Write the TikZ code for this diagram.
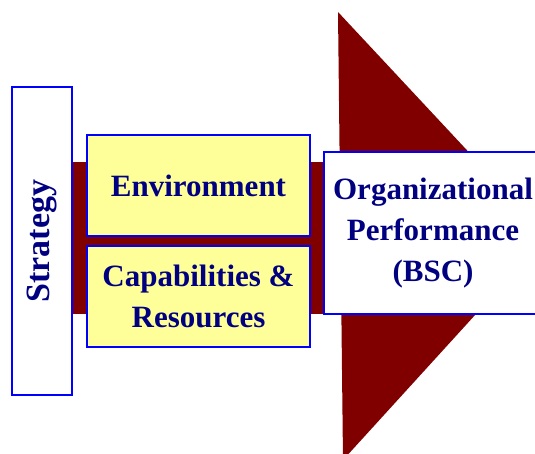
\documentclass[tikz,border=0pt]{standalone}
\usepackage{fontspec}
\setmainfont{Liberation Serif}
\definecolor{arrowred}{HTML}{800000}
\definecolor{boxblue}{HTML}{0000FF}
\definecolor{textnavy}{HTML}{000080}
\definecolor{boxyellow}{HTML}{FFFF99}
\begin{document}
\begin{tikzpicture}[x=1pt,y=-1pt,
  box/.style={draw=boxblue,line width=2pt,inner sep=0pt,align=center,
    text=textnavy,font=\bfseries\fontsize{31}{41}\selectfont},
  ybox/.style={box,fill=boxyellow,minimum width=223pt,minimum height=101pt},
  wbox/.style={box,fill=white}]
\useasboundingbox (0,0) rectangle (535,453);
\begin{scope}
\clip (0,0) rectangle (535,453);
% arrow
\fill[arrowred] (338,12) -- (547,236) -- (343,460) -- cycle;
\fill[arrowred] (72,162) rectangle (342,314);
\node[wbox,minimum width=60pt,minimum height=308pt] (strategy) at (42,241)
  {\rotatebox{90}{\fontsize{34}{40}\selectfont Strategy}};
\node[ybox] (env) at (198.5,185.5) {Environment};
\node[ybox] (cap) at (198.5,296.5) {Capabilities \&\\Resources};
\node[wbox,minimum width=218pt,minimum height=162pt] (org) at (433,233)
  {Organizational\\Performance\\(BSC)};
\end{scope}
\end{tikzpicture}
\end{document}
